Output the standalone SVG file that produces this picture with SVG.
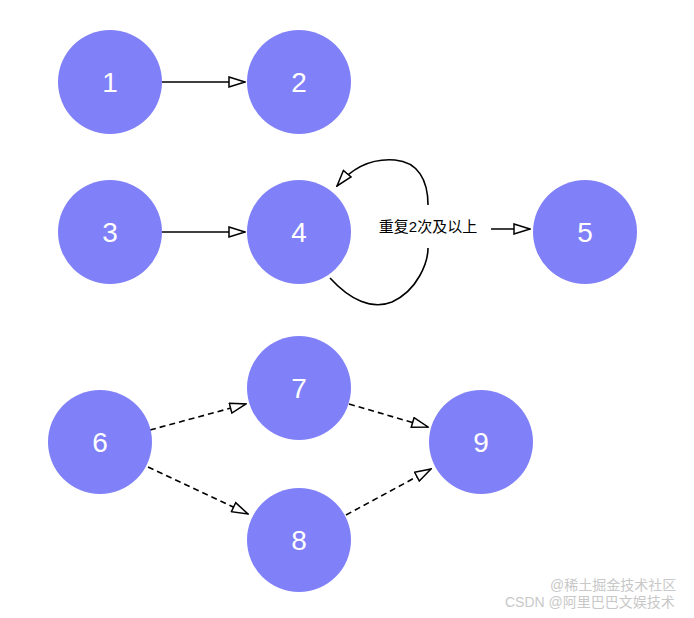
<svg xmlns="http://www.w3.org/2000/svg" width="694" height="618" viewBox="0 0 694 618">
<style>
.n{fill:#8080f8}
.t{fill:#fff;font-family:"Liberation Sans",Arial,sans-serif;font-size:28px;text-anchor:middle;dominant-baseline:central}
.l{stroke:#000;stroke-width:1.6;fill:none}
.e{marker-end:url(#a)}
.d{stroke-dasharray:6 4}
.w{fill:#c8c8c8;font-family:"Liberation Sans","Noto Sans CJK SC",sans-serif;font-size:14px}
</style>
<defs><marker id="a" markerWidth="18" markerHeight="12" refX="17" refY="6" orient="auto" markerUnits="userSpaceOnUse"><path d="M1,1 L17,6 L1,11 Z" fill="#fff" stroke="#000" stroke-width="1.5"/></marker></defs>
<rect width="694" height="618" fill="#fff"/>
<g id="connectors">
<path class="l e" d="M162,82 H245"/>
<path class="l e" d="M162,232 H245"/>
<path class="l" d="M330,278 C350,300 372,310 392,302 C418,290 428,262 428,248"/>
<path class="l e" d="M428,205 C428,180 418,162 395,160 C370,158 352,168 337,186"/>
<path class="l e" d="M491,229 H530"/>
<path class="l e d" d="M150,430 L246,404"/>
<path class="l e d" d="M148,467 L248,514"/>
<path class="l e d" d="M349,404 L428,427"/>
<path class="l e d" d="M346,515 L431,469"/>
</g>
<text x="428" y="226" font-family="'Liberation Sans','Noto Sans CJK SC',sans-serif" font-size="15" text-anchor="middle" dominant-baseline="central">重复2次及以上</text>
<g id="n1"><circle class="n" cx="110" cy="82" r="52"/><text class="t" x="110" y="82">1</text></g>
<g id="n2"><circle class="n" cx="299" cy="82" r="52"/><text class="t" x="299" y="82">2</text></g>
<g id="n3"><circle class="n" cx="110" cy="232" r="52"/><text class="t" x="110" y="232">3</text></g>
<g id="n4"><circle class="n" cx="299" cy="232" r="52"/><text class="t" x="299" y="232">4</text></g>
<g id="n5"><circle class="n" cx="585" cy="232" r="52"/><text class="t" x="585" y="232">5</text></g>
<g id="n6"><circle class="n" cx="100" cy="442" r="52"/><text class="t" x="100" y="442">6</text></g>
<g id="n7"><circle class="n" cx="299" cy="388" r="52"/><text class="t" x="299" y="388">7</text></g>
<g id="n8"><circle class="n" cx="299" cy="540" r="52"/><text class="t" x="299" y="540">8</text></g>
<g id="n9"><circle class="n" cx="481" cy="442" r="52"/><text class="t" x="481" y="442">9</text></g>
<text class="w" x="550" y="590">@稀土掘金技术社区</text>
<text class="w" x="505" y="607">CSDN @阿里巴巴文娱技术</text>
</svg>
